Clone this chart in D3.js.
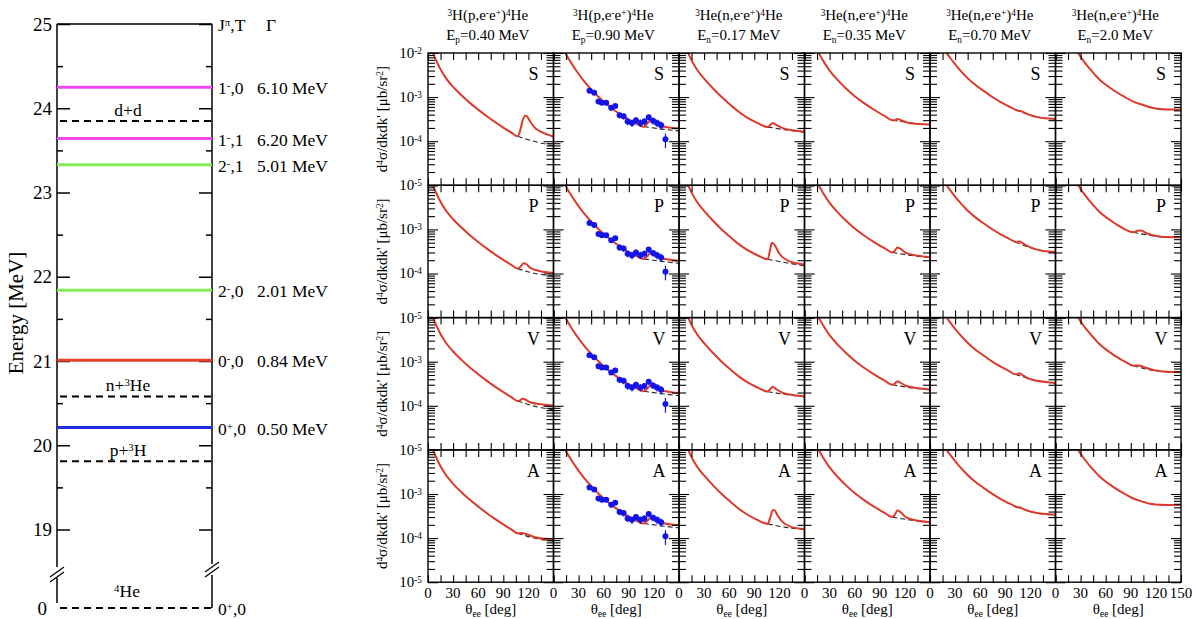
<!DOCTYPE html>
<html>
<head>
<meta charset="utf-8">
<script src="https://cdn.jsdelivr.net/npm/d3@7"></script>
<style>
  body { margin: 0; background: #fff; }
  text { font-family: "Liberation Serif", "Times New Roman", Times, serif; fill: #000; }
</style>
</head>
<body>
<svg id="chart" width="1197" height="619"></svg>
<script>
// ---------- level scheme data ----------
const levelEnergy = [24.25, 23.64, 23.33, 21.84, 21.01, 20.21];
const levelJT = ["1^-,0", "1^-,1", "2^-,1", "2^-,0", "0^-,0", "0^+,0"];
const levelWidth = ["6.10 MeV", "6.20 MeV", "5.01 MeV", "2.01 MeV", "0.84 MeV", "0.50 MeV"];
const levelColor = ["#f046f0", "#f046f0", "#84ea5c", "#84ea5c", "#e8402c", "#1f2fe0"];
const thresholdEnergy = [23.85, 20.58, 19.81];
const thresholdName = ["d+d", "n+^3He", "p+^3H"];
const energyMajor = [19, 20, 21, 22, 23, 24, 25];
const energyMinor = [19.5, 20.5, 21.5, 22.5, 23.5, 24.5];

// ---------- panel data ----------
const headerReaction = ["^3H(p,e^-e^+)^4He", "^3H(p,e^-e^+)^4He", "^3He(n,e^-e^+)^4He",
                        "^3He(n,e^-e^+)^4He", "^3He(n,e^-e^+)^4He", "^3He(n,e^-e^+)^4He"];
const headerEnergy = ["E_p=0.40 MeV", "E_p=0.90 MeV", "E_n=0.17 MeV", "E_n=0.35 MeV", "E_n=0.70 MeV", "E_n=2.0 MeV"];
const rowLetters = ["S", "P", "V", "A"];
const thetaTicks = [0, 15, 30, 45, 60, 75, 90, 105, 120, 135, 150];
const thetaLabels = [0, 30, 60, 90, 120];
const decadeTicks = [1e-5, 1e-4, 1e-3, 1e-2];
const minorTicks = [2e-5,3e-5,4e-5,5e-5,6e-5,7e-5,8e-5,9e-5, 2e-4,3e-4,4e-4,5e-4,6e-4,7e-4,8e-4,9e-4,
                    2e-3,3e-3,4e-3,5e-3,6e-3,7e-3,8e-3,9e-3];

// falling part of the red curve, shared by the four rows of a column [theta, d4sigma]
const baseCol = [
  [[5,1.11e-2],[6,1.0e-2],[10,6.6e-3],[14,4.6e-3],[20,2.95e-3],[30,1.7e-3],[40,1.1e-3],[50,7.4e-4],[60,5.2e-4],[70,3.72e-4],[80,2.72e-4],[90,2.04e-4],[100,1.55e-4],[107,1.29e-4]],
  [[13,1.08e-2],[14,1.0e-2],[20,6.46e-3],[28,3.8e-3],[36,2.37e-3],[44,1.58e-3],[54,1.01e-3],[64,6.84e-4],[74,4.84e-4],[84,3.59e-4],[94,2.79e-4],[102,2.34e-4],[108,2.14e-4]],
  [[10,1.12e-2],[11,1.0e-2],[16,6.3e-3],[22,4.07e-3],[30,2.63e-3],[41,1.55e-3],[51,1.0e-3],[61,6.8e-4],[71,4.7e-4],[81,3.47e-4],[93,2.63e-4],[106,2.1e-4]],
  [[15,1.17e-2],[17,1.0e-2],[22,6.8e-3],[30,4.0e-3],[40,2.4e-3],[50,1.55e-3],[60,1.05e-3],[72,7.1e-4],[85,4.9e-4],[96,3.7e-4],[105,3.0e-4]],
  [[18,1.17e-2],[20,1.0e-2],[24,7.8e-3],[34,4.5e-3],[44,2.8e-3],[54,1.9e-3],[64,1.38e-3],[74,1.02e-3],[84,7.8e-4],[94,6.2e-4],[102,5.2e-4]],
  [[25,1.15e-2],[27,1.0e-2],[33,6.8e-3],[40,4.6e-3],[46,3.4e-3],[53,2.45e-3],[63,1.74e-3],[73,1.29e-3],[83,1.0e-3]]
];

// resonance region of the red curve, one array per row (S, P, V, A), one entry per column
const tailS = [
  [[110,1.7e-4],[113,2.9e-4],[116,3.8e-4],[118,3.7e-4],[122,2.8e-4],[128,2.0e-4],[136,1.6e-4],[150,1.27e-4]],
  [[112,2.5e-4],[116,3.0e-4],[120,2.8e-4],[126,2.35e-4],[134,2.1e-4],[150,1.95e-4]],
  [[109,2.3e-4],[112,2.6e-4],[115,2.4e-4],[125,1.95e-4],[150,1.65e-4]],
  [[108,3.0e-4],[111,3.2e-4],[115,3.0e-4],[125,2.6e-4],[150,2.4e-4]],
  [[106,4.85e-4],[109,4.8e-4],[112,4.5e-4],[124,3.65e-4],[137,3.3e-4],[150,3.2e-4]],
  [[93,7.9e-4],[103,6.8e-4],[113,5.9e-4],[123,5.4e-4],[133,5.25e-4],[150,5.2e-4]]
];
const tailP = [
  [[110,1.38e-4],[114,1.7e-4],[117,1.65e-4],[122,1.35e-4],[132,1.15e-4],[150,1.02e-4]],
  [[112,2.45e-4],[116,2.9e-4],[120,2.7e-4],[128,2.25e-4],[150,1.95e-4]],
  [[109,3.6e-4],[111,5.0e-4],[114,4.5e-4],[120,2.8e-4],[130,1.95e-4],[150,1.6e-4]],
  [[108,3.3e-4],[111,3.9e-4],[114,3.7e-4],[122,2.9e-4],[150,2.35e-4]],
  [[104,5.1e-4],[107,5.4e-4],[111,4.8e-4],[120,3.9e-4],[135,3.25e-4],[150,3.1e-4]],
  [[93,8.6e-4],[98,9.3e-4],[102,9.4e-4],[108,8.3e-4],[120,7.1e-4],[135,6.7e-4],[150,6.6e-4]]
];
const tailV = [
  [[110,1.33e-4],[113,1.45e-4],[116,1.4e-4],[122,1.2e-4],[135,1.08e-4],[150,1.0e-4]],
  [[112,2.45e-4],[116,2.9e-4],[120,2.7e-4],[128,2.25e-4],[150,1.95e-4]],
  [[109,2.4e-4],[112,2.7e-4],[116,2.4e-4],[126,1.9e-4],[150,1.65e-4]],
  [[108,3.2e-4],[111,3.6e-4],[114,3.4e-4],[122,2.8e-4],[150,2.35e-4]],
  [[104,5.2e-4],[107,5.5e-4],[111,4.9e-4],[120,4.0e-4],[150,3.3e-4]],
  [[93,8.1e-4],[100,8.2e-4],[106,7.5e-4],[118,6.4e-4],[133,5.9e-4],[150,5.8e-4]]
];
const tailA = [
  [[110,1.29e-4],[113,1.31e-4],[117,1.24e-4],[128,1.05e-4],[150,9.3e-5]],
  [[112,2.45e-4],[116,2.9e-4],[120,2.7e-4],[128,2.25e-4],[150,1.95e-4]],
  [[109,2.9e-4],[112,4.3e-4],[114,4.3e-4],[118,3.2e-4],[124,2.3e-4],[134,1.8e-4],[150,1.6e-4]],
  [[108,3.4e-4],[111,4.2e-4],[114,4.0e-4],[120,3.1e-4],[130,2.6e-4],[150,2.3e-4]],
  [[104,5.0e-4],[107,5.0e-4],[111,4.6e-4],[125,3.8e-4],[150,3.4e-4]],
  [[93,7.9e-4],[103,6.8e-4],[113,6.0e-4],[125,5.7e-4],[150,5.6e-4]]
];

// dashed (non-resonant) curves
const dashS = [
  [[107,1.29e-4],[128,9.8e-5],[150,7.9e-5]],
  [[108,2.14e-4],[130,1.88e-4],[150,1.7e-4]],
  [[106,2.1e-4],[128,1.8e-4],[150,1.6e-4]],
  [[105,3.0e-4],[128,2.6e-4],[150,2.35e-4]],
  [[102,5.2e-4],[125,3.7e-4],[150,3.15e-4]],
  [[103,6.8e-4],[125,5.4e-4],[150,5.15e-4]]
];
const dashP = [
  [[107,1.29e-4],[128,1.0e-4],[150,8.7e-5]],
  [[108,2.14e-4],[130,1.88e-4],[150,1.7e-4]],
  [[106,2.1e-4],[128,1.75e-4],[150,1.5e-4]],
  [[105,3.0e-4],[128,2.55e-4],[150,2.3e-4]],
  [[102,5.2e-4],[125,3.6e-4],[150,3.0e-4]],
  [[93,8.6e-4],[120,7.0e-4],[150,6.5e-4]]
];
const dashV = [
  [[107,1.29e-4],[128,9.7e-5],[150,8.2e-5]],
  [[108,2.14e-4],[130,1.88e-4],[150,1.7e-4]],
  [[106,2.1e-4],[128,1.8e-4],[150,1.6e-4]],
  [[105,3.0e-4],[128,2.55e-4],[150,2.3e-4]],
  [[102,5.2e-4],[125,3.8e-4],[150,3.25e-4]],
  [[93,8.1e-4],[120,6.2e-4],[150,5.7e-4]]
];
const dashA = [
  [[107,1.29e-4],[128,9.9e-5],[150,8.5e-5]],
  [[108,2.14e-4],[130,1.88e-4],[150,1.7e-4]],
  [[106,2.1e-4],[128,1.75e-4],[150,1.55e-4]],
  [[105,3.0e-4],[128,2.55e-4],[150,2.3e-4]],
  [[102,5.2e-4],[125,3.75e-4],[150,3.35e-4]],
  [[103,6.8e-4],[125,5.7e-4],[150,5.55e-4]]
];

// measured points (column 2, same in every row)
const expTheta = [43, 48.6, 53.8, 57.8, 63, 69, 73.8, 79, 83.8, 88.6, 93.8, 98.6, 103.8, 108.6, 113.8, 119, 123.8, 128.6, 133.8];
const expValue = [1.40e-3, 1.26e-3, 7.9e-4, 7.4e-4, 7.4e-4, 5.7e-4, 6.3e-4, 3.9e-4, 3.7e-4, 2.8e-4, 2.6e-4, 3.0e-4, 2.6e-4, 2.8e-4, 3.5e-4, 2.9e-4, 2.6e-4, 2.3e-4, 1.1e-4];
const expError = [1.2e-4, 1.1e-4, 8e-5, 8e-5, 8e-5, 7e-5, 7e-5, 6e-5, 6e-5, 5e-5, 5e-5, 5e-5, 5e-5, 5e-5, 5e-5, 5e-5, 5e-5, 5e-5, 4e-5];

const tails = [tailS, tailP, tailV, tailA];
const dashes = [dashS, dashP, dashV, dashA];

const svg = d3.select("#chart");

// text with ^x / _x or ^{..} / _{..} markup
function rich(sel, str, size) {
  const re = /([\^_])(\{([^}]*)\}|(.))/g;
  let last = 0, m;
  const parts = [];
  while ((m = re.exec(str))) {
    if (m.index > last) parts.push({ t: str.slice(last, m.index), k: 0 });
    parts.push({ t: m[3] !== undefined ? m[3] : m[4], k: m[1] === "^" ? 1 : -1 });
    last = re.lastIndex;
  }
  if (last < str.length) parts.push({ t: str.slice(last), k: 0 });
  parts.forEach(p => {
    const ts = sel.append("tspan").text(p.t);
    if (p.k) ts.attr("font-size", size * 0.62).attr("baseline-shift", p.k > 0 ? "45%" : "-28%");
  });
  return sel;
}

// ================= level scheme =================
const eY = d3.scaleLinear().domain([19, 25]).range([529.5, 24]);
const lx0 = 57, lx1 = 212, groundY = 608;
const lvl = svg.append("g");

lvl.append("line").attr("x1", lx0).attr("x2", lx1).attr("y1", eY(25)).attr("y2", eY(25))
  .attr("stroke", "#000").attr("stroke-width", 1.5);
lvl.append("line").attr("x1", lx0).attr("x2", lx0).attr("y1", eY(25)).attr("y2", 567).attr("stroke", "#000").attr("stroke-width", 1.5);
lvl.append("line").attr("x1", lx0).attr("x2", lx0).attr("y1", 578).attr("y2", 603).attr("stroke", "#000").attr("stroke-width", 1.5);
lvl.append("line").attr("x1", lx1).attr("x2", lx1).attr("y1", eY(25)).attr("y2", 564).attr("stroke", "#000").attr("stroke-width", 1.5);
lvl.append("line").attr("x1", lx1).attr("x2", lx1).attr("y1", 575).attr("y2", 608).attr("stroke", "#000").attr("stroke-width", 1.5);
[[lx0, 572], [lx0, 577], [lx1, 567], [lx1, 572]].forEach(([bx, by]) => {
  lvl.append("line").attr("x1", bx - 7).attr("y1", by + 5).attr("x2", bx + 7).attr("y2", by - 5)
    .attr("stroke", "#000").attr("stroke-width", 1.3);
});

function stripAxis(g) { g.select(".domain").remove(); g.selectAll("line").attr("stroke-width", 1.5); }
lvl.append("g").attr("transform", `translate(${lx0},0)`)
  .call(d3.axisRight(eY).tickValues(energyMajor).tickSize(13).tickFormat("")).call(stripAxis);
lvl.append("g").attr("transform", `translate(${lx0},0)`)
  .call(d3.axisRight(eY).tickValues(energyMinor).tickSize(6).tickFormat("")).call(stripAxis);
lvl.append("g").attr("transform", `translate(${lx1},0)`)
  .call(d3.axisLeft(eY).tickValues(energyMajor).tickSize(13).tickFormat("")).call(stripAxis);
lvl.append("g").attr("transform", `translate(${lx1},0)`)
  .call(d3.axisLeft(eY).tickValues(energyMinor).tickSize(6).tickFormat("")).call(stripAxis);

energyMajor.forEach(e => {
  lvl.append("text").attr("x", 52).attr("y", eY(e)).attr("dy", "0.35em").attr("text-anchor", "end")
    .attr("font-size", 19).text(e);
});
lvl.append("text").attr("x", 47).attr("y", groundY).attr("dy", "0.35em").attr("text-anchor", "end")
  .attr("font-size", 19).text("0");

// levels
levelEnergy.forEach((e, i) => {
  lvl.append("line").attr("x1", lx0).attr("x2", lx1).attr("y1", eY(e)).attr("y2", eY(e))
    .attr("stroke", levelColor[i]).attr("stroke-width", 3);
  rich(lvl.append("text").attr("x", 218).attr("y", eY(e) + 7).attr("font-size", 17.5), levelJT[i], 17.5);
  lvl.append("text").attr("x", 257).attr("y", eY(e) + 7).attr("font-size", 17.5).text(levelWidth[i]);
});
// thresholds
thresholdEnergy.forEach((e, i) => {
  lvl.append("line").attr("x1", lx0 + 3).attr("x2", lx1).attr("y1", eY(e)).attr("y2", eY(e))
    .attr("stroke", "#000").attr("stroke-width", 2).attr("stroke-dasharray", "7,5");
  rich(lvl.append("text").attr("x", 128).attr("y", eY(e) - 5).attr("text-anchor", "middle").attr("font-size", 17.5),
    thresholdName[i], 17.5);
});
lvl.append("line").attr("x1", lx0 + 3).attr("x2", lx1).attr("y1", groundY).attr("y2", groundY)
  .attr("stroke", "#000").attr("stroke-width", 2).attr("stroke-dasharray", "7,5");
rich(lvl.append("text").attr("x", 127).attr("y", 597).attr("text-anchor", "middle").attr("font-size", 17.5), "^4He", 17.5);
rich(lvl.append("text").attr("x", 218).attr("y", groundY + 7).attr("font-size", 17.5), "0^+,0", 17.5);
rich(lvl.append("text").attr("x", 218).attr("y", 31).attr("font-size", 17.5), "J^π,T", 17.5);
lvl.append("text").attr("x", 266).attr("y", 31).attr("font-size", 17.5).text("Γ");
lvl.append("text").attr("transform", "translate(23,313) rotate(-90)").attr("text-anchor", "middle")
  .attr("font-size", 21).text("Energy [MeV]");

// ================= panel grid =================
const PW = 125.5, PH = 132.3, PX0 = 428, PY0 = 53;
const x = d3.scaleLinear().domain([0, 150]).range([0, PW]);
const y = d3.scaleLog().domain([1e-5, 1e-2]).range([PH, 0]);
const line = d3.line().x(d => x(d[0])).y(d => y(d[1])).curve(d3.curveMonotoneX);
const defs = svg.append("defs");
defs.append("clipPath").attr("id", "pclip").append("rect").attr("width", PW).attr("height", PH);

for (let r = 0; r < 4; r++) {
  for (let c = 0; c < 6; c++) {
    const g = svg.append("g").attr("transform", `translate(${PX0 + c * PW},${PY0 + r * PH})`);
    const plot = g.append("g").attr("clip-path", "url(#pclip)");
    plot.append("path").datum(dashes[r][c]).attr("d", line).attr("fill", "none")
      .attr("stroke", "#222").attr("stroke-width", 1.1).attr("stroke-dasharray", "5,3");
    plot.append("path").datum(baseCol[c].concat(tails[r][c])).attr("d", line).attr("fill", "none")
      .attr("stroke", "#dc3a2c").attr("stroke-width", 2);
    if (c === 1) {
      const pts = plot.selectAll("g.pt").data(expTheta).join("g").attr("class", "pt");
      pts.append("line").attr("x1", d => x(d)).attr("x2", d => x(d))
        .attr("y1", (d, i) => y(expValue[i] + expError[i])).attr("y2", (d, i) => y(Math.max(expValue[i] - expError[i], 1e-6)))
        .attr("stroke", "#1414e8").attr("stroke-width", 1.2);
      pts.append("circle").attr("cx", d => x(d)).attr("cy", (d, i) => y(expValue[i])).attr("r", 3)
        .attr("fill", "#1414e8");
    }
    // ticks, all pointing inward
    const tk = (gen, tx, ty) => g.append("g").attr("transform", `translate(${tx},${ty})`).call(gen)
      .call(a => { a.select(".domain").remove(); a.selectAll("line").attr("stroke-width", 1.1); });
    tk(d3.axisBottom(x).tickValues(thetaTicks).tickSize(-7).tickFormat(""), 0, PH);
    tk(d3.axisTop(x).tickValues(thetaTicks).tickSize(-7).tickFormat(""), 0, 0);
    tk(d3.axisLeft(y).tickValues(decadeTicks).tickSize(-10).tickFormat(""), 0, 0);
    tk(d3.axisLeft(y).tickValues(minorTicks).tickSize(-7).tickFormat(""), 0, 0);
    tk(d3.axisRight(y).tickValues(decadeTicks).tickSize(-10).tickFormat(""), PW, 0);
    tk(d3.axisRight(y).tickValues(minorTicks).tickSize(-7).tickFormat(""), PW, 0);
    g.append("rect").attr("width", PW).attr("height", PH).attr("fill", "none")
      .attr("stroke", "#000").attr("stroke-width", 1.4);
    g.append("text").attr("x", PW - 20).attr("y", 27).attr("text-anchor", "middle")
      .attr("font-size", 18).text(rowLetters[r]);

    if (c === 0) {
      const labs = r === 0 ? decadeTicks : decadeTicks.slice(0, 3);
      labs.forEach(v => {
        rich(g.append("text").attr("x", -6).attr("y", y(v) + 5).attr("text-anchor", "end").attr("font-size", 15),
          "10^{" + Math.round(Math.log10(v)) + "}", 15);
      });
      rich(g.append("text").attr("transform", `translate(-41,${PH / 2}) rotate(-90)`).attr("text-anchor", "middle")
        .attr("font-size", 15), "d^4σ/dkdk' [μb/sr^2]", 15);
    }
    if (r === 3) {
      const labs = c === 5 ? thetaLabels.concat([150]) : thetaLabels;
      labs.forEach(v => {
        g.append("text").attr("x", x(v)).attr("y", PH + 16).attr("text-anchor", "middle")
          .attr("font-size", 15).text(v);
      });
      rich(g.append("text").attr("x", PW / 2).attr("y", PH + 32).attr("text-anchor", "middle")
        .attr("font-size", 15), "θ_{ee} [deg]", 15);
    }
    if (r === 0) {
      rich(g.append("text").attr("x", PW / 2 - 3).attr("y", -33).attr("text-anchor", "middle")
        .attr("font-size", 15), headerReaction[c], 15);
      rich(g.append("text").attr("x", PW / 2 - 3).attr("y", -13).attr("text-anchor", "middle")
        .attr("font-size", 15), headerEnergy[c], 15);
    }
  }
}
</script>
</body>
</html>
